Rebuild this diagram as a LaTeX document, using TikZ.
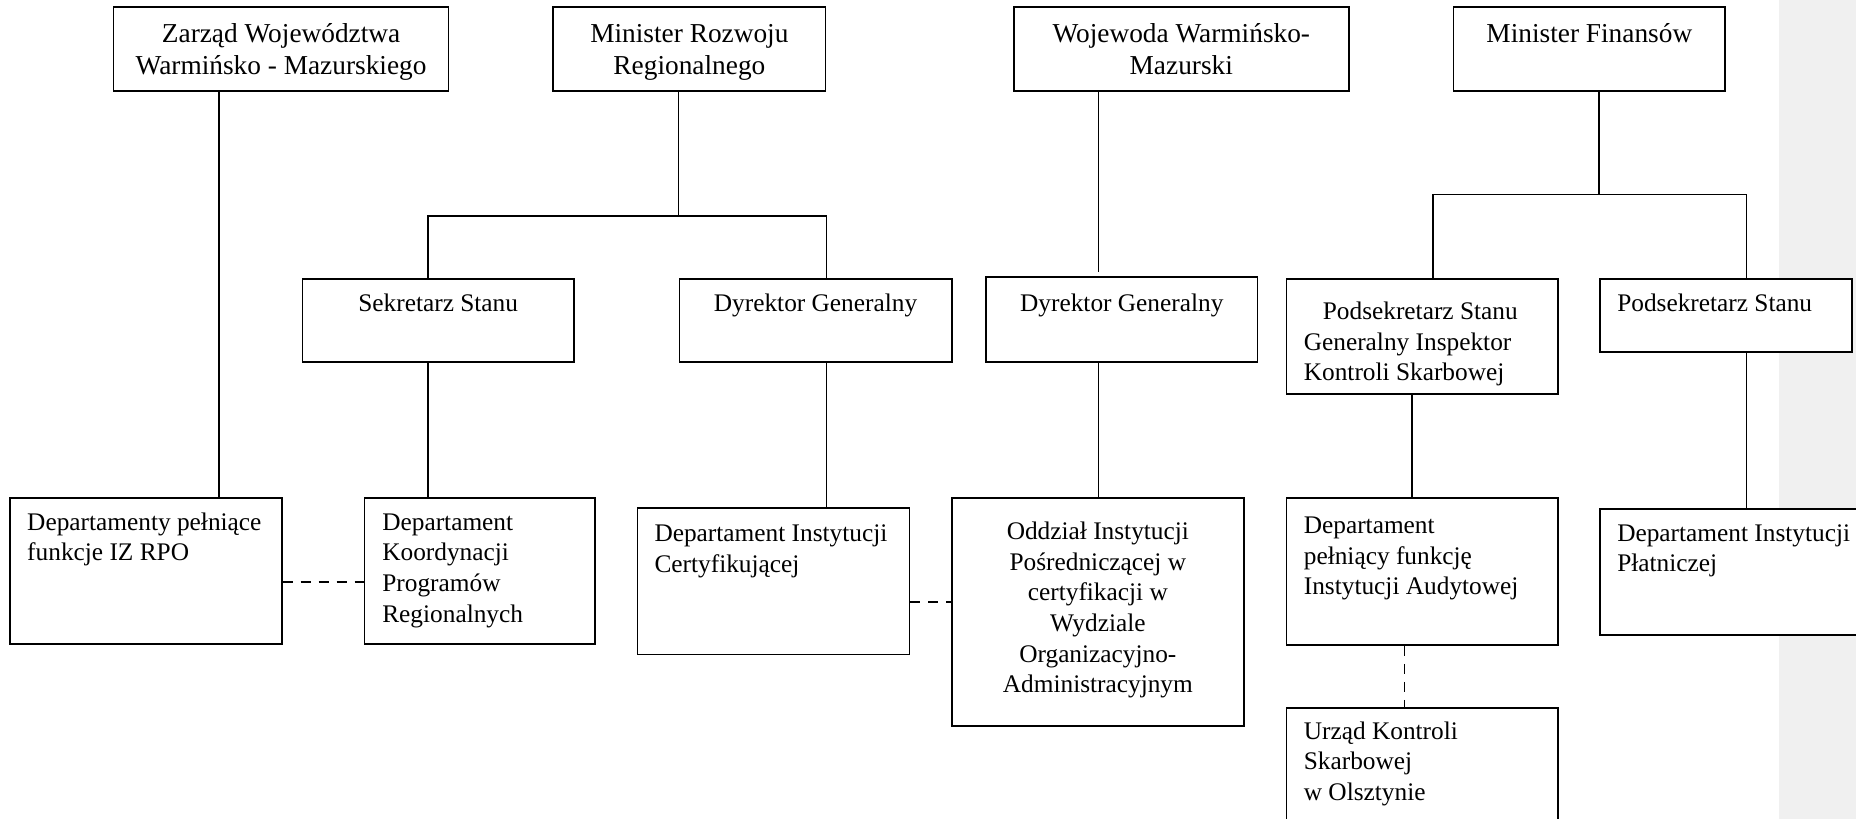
\documentclass[tikz,border=0pt]{standalone}
\usepackage{fontspec}
\setmainfont{Liberation Serif}
\usetikzlibrary{fit}
\begin{document}
\begin{tikzpicture}[x=0.75pt,y=-0.75pt,
  box/.style={draw=black, line width=1.25pt, fill=white, inner sep=0pt},
  conn/.style={draw=black, line width=1.1pt},
  dline/.style={draw=black, line width=1.4pt, dash pattern=on 7.5pt off 6pt},
  tl/.style={anchor=north west, align=left, inner sep=0pt, font=\fontsize{19pt}{22.9pt}\selectfont},
  tc/.style={anchor=north, align=center, inner sep=0pt, font=\fontsize{19pt}{22.9pt}\selectfont},
  th/.style={anchor=north, align=center, inner sep=0pt, font=\fontsize{20.5pt}{23.8pt}\selectfont}]
\useasboundingbox (0,0) rectangle (1856,818);
\clip (0,0) rectangle (1856,818);
\definecolor{panelgray}{RGB}{240,240,240}
\fill[panelgray] (1779,-5) rectangle (1860,825);

% top row
\node[box, fit={(113.6,6.7) (448.6,90.7)}] (zarz) {};
\node[box, fit={(553.3,6.7) (825.5,90.7)}] (mrr) {};
\node[box, fit={(1013.8,6.7) (1348.8,90.7)}] (woj) {};
\node[box, fit={(1453.5,6.7) (1725.2,90.7)}] (mf) {};
% middle row
\node[box, fit={(302.4,278.7) (574,362.3)}] (sek) {};
\node[box, fit={(679.4,278.7) (951.7,362.3)}] (dgm) {};
\node[box, fit={(986,277.3) (1257.6,361.7)}] (dgw) {};
\node[box, fit={(1286.6,278.7) (1557.7,394.3)}] (pgiks) {};
\node[box, fit={(1600,279) (1851.7,352)}] (ps) {};
% bottom row
\node[box, fit={(10,497.9) (281.7,644.1)}] (dep) {};
\node[box, fit={(364.5,497.9) (595.3,644.1)}] (dkpr) {};
\node[box, fit={(637.4,508.1) (909.6,654.4)}] (dic) {};
\node[box, fit={(951.7,497.9) (1244,726)}] (odd) {};
\node[box, fit={(1286.6,497.9) (1557.7,645)}] (dpf) {};
\node[box, fit={(1600,509) (1875,635)}] (dip) {};
\node[box, fit={(1286.6,707.7) (1557.7,850)}] (uks) {};

% texts
\node[th] (t-zarz) at ([shift={(0,14.1)}]zarz.north) {\strut Zarząd Województwa\\Warmińsko - Mazurskiego};
\node[th] (t-mrr) at ([shift={(0,14.1)}]mrr.north) {\strut Minister Rozwoju\\Regionalnego};
\node[th] (t-woj) at ([shift={(0,14.1)}]woj.north) {\strut Wojewoda Warmińsko-\\Mazurski};
\node[th] (t-mf) at ([shift={(0,14.1)}]mf.north) {\strut Minister Finansów};
\node[tc] (t-sek) at ([shift={(0,12.2)}]sek.north) {\strut Sekretarz Stanu};
\node[tc] (t-dgm) at ([shift={(0,12.2)}]dgm.north) {\strut Dyrektor Generalny};
\node[tc] (t-dgw) at ([shift={(0,13.6)}]dgw.north) {\strut Dyrektor Generalny};
\node[tl] (t-pgiks) at ([shift={(17.8,20)}]pgiks.north west) {\strut\hspace*{14.25pt}Podsekretarz Stanu\\Generalny Inspektor\\Kontroli Skarbowej};
\node[tl] (t-ps) at ([shift={(17.8,11.8)}]ps.north west) {\strut Podsekretarz Stanu};
\node[tl] (t-dep) at ([shift={(17.8,11.7)}]dep.north west) {\strut Departamenty pełniące\\funkcje IZ RPO};
\node[tl] (t-dkpr) at ([shift={(18.4,11.7)}]dkpr.north west) {\strut Departament\\Koordynacji\\Programów\\Regionalnych};
\node[tl] (t-dic) at ([shift={(17.7,13)}]dic.north west) {\strut Departament Instytucji\\Certyfikującej};
\node[tc] (t-odd) at ([shift={(0,21.2)}]odd.north) {\strut Oddział Instytucji\\Pośredniczącej w\\certyfikacji w\\Wydziale\\Organizacyjno-\\Administracyjnym};
\node[tl] (t-dpf) at ([shift={(17.8,15)}]dpf.north west) {\strut Departament\\pełniący funkcję\\Instytucji Audytowej};
\node[tl] (t-uks) at ([shift={(17.8,10.8)}]uks.north west) {\strut Urząd Kontroli\\Skarbowej\\w Olsztynie};
\node[tl] (t-dip) at ([shift={(17.8,11.2)}]dip.north west) {\strut Departament Instytucji\\Płatniczej};

% helper coordinates
\coordinate (xz) at (219,0);
\coordinate (bm) at (427.9,216);
\coordinate (xw) at (1098.4,0);
\coordinate (bf) at (1432.8,194.3);
\coordinate (xp) at (1746.5,0);
\coordinate (xg) at (1412,0);
\coordinate (xd) at (1404.5,0);
\coordinate (yd1) at (0,582.3);
\coordinate (yd2) at (0,602.3);

% solid connectors
\draw[conn] (zarz.south -| xz) -- (dep.north -| xz);
\draw[conn] (mrr.south -| dgm.west) -- (dgm.west |- bm);
\draw[conn] (sek.north -| bm) -- (bm) -- (bm -| mrr.east) -- (dgm.north -| mrr.east);
\draw[conn] (sek.south -| bm) -- (dkpr.north -| bm);
\draw[conn] (dgm.south -| mrr.east) -- (dic.north -| mrr.east);
\draw[conn, shorten >=3pt] (woj.south -| xw) -- (dgw.north -| xw);
\draw[conn] (dgw.south -| xw) -- (odd.north -| xw);
\draw[conn] (mf.south -| ps.west) -- (ps.west |- bf);
\draw[conn] (pgiks.north -| bf) -- (bf) -- (bf -| xp) -- (ps.north -| xp);
\draw[conn] (pgiks.south -| xg) -- (dpf.north -| xg);
\draw[conn] (ps.south -| xp) -- (dip.north -| xp);

% dashed connectors
\draw[dline] (dep.east |- yd1) -- (dkpr.west |- yd1);
\draw[dline] (dic.east |- yd2) -- (odd.west |- yd2);
\draw[dline] (dpf.south -| xd) -- (uks.north -| xd);
\end{tikzpicture}
\end{document}
